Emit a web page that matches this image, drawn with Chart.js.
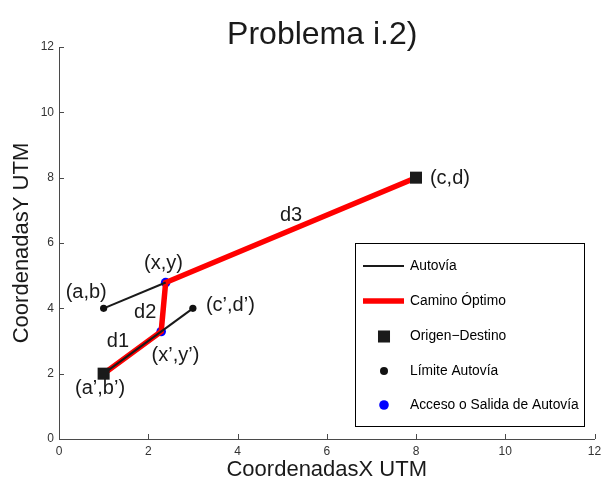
<!DOCTYPE html>
<html><head><meta charset="utf-8">
<script src="https://cdn.jsdelivr.net/npm/chart.js@4/dist/chart.umd.min.js"></script>
<style>html,body{margin:0;padding:0;background:#fff;} canvas{display:block;}</style>
</head><body>
<canvas id="c" width="603" height="482"></canvas>
<script>
// ---- text ----
const chartTitle = 'Problema i.2)';
const xAxisTitle = 'CoordenadasX UTM';
const yAxisTitle = 'CoordenadasY UTM';
const xTicks = [0, 2, 4, 6, 8, 10, 12];
const yTicks = [0, 2, 4, 6, 8, 10, 12];
const seriesLabels = ['Autovía', 'Camino Óptimo', 'Origen\u2212Destino', 'Límite Autovía', 'Acceso o Salida de Autovía'];

// ---- series ----
const autovia1X = [1, 2.39];
const autovia1Y = [4, 4.79];
const autovia2X = [1, 3];
const autovia2Y = [2, 4];
const caminoX = [1, 2.29, 2.39, 8];
const caminoY = [2, 3.29, 4.79, 8];
const origenDestinoX = [1, 8];
const origenDestinoY = [2, 8];
const limiteX = [1, 3];
const limiteY = [4, 4];
const accesoX = [2.29, 2.39];
const accesoY = [3.29, 4.79];

// ---- point annotations ----
const annotText = ['(a,b)', '(x,y)', 'd2', '(c\u2019,d\u2019)', 'd1', '(x\u2019,y\u2019)', '(a\u2019,b\u2019)', '(c,d)', 'd3'];
const annotX = [0.61, 2.34, 1.93, 3.84, 1.32, 2.61, 0.92, 8.76, 5.2];
const annotY = [4.5, 5.36, 3.86, 4.1, 2.98, 2.57, 1.55, 7.99, 6.83];

const FONT = '"Liberation Sans", Arial, Helvetica, sans-serif';
const axisColor = '#4a4a4a';
const mk = (xs, ys) => xs.map((v, i) => ({x: v, y: ys[i]}));

const styles = {
  autovia: {color: '#1a1a1a', width: 2},
  camino: {color: '#ff0000', width: 5.5},
  od: {color: '#1a1a1a', radius: 8.5},
  lim: {color: '#111111', radius: 3.6},
  acc: {color: '#0000ff', radius: 4.8}
};

const decor = {
  id: 'decor',
  afterDraw(chart) {
    const {ctx, scales: {x, y}, chartArea: a} = chart;
    ctx.save();
    // inward ticks
    ctx.strokeStyle = axisColor; ctx.lineWidth = 1;
    xTicks.forEach(v => {
      const px = Math.round(x.getPixelForValue(v)) + 0.5;
      ctx.beginPath(); ctx.moveTo(px, a.bottom); ctx.lineTo(px, a.bottom - 5); ctx.stroke();
    });
    yTicks.forEach(v => {
      const py = Math.round(y.getPixelForValue(v)) + 0.5;
      ctx.beginPath(); ctx.moveTo(a.left, py); ctx.lineTo(a.left + 5, py); ctx.stroke();
    });
    // title
    ctx.fillStyle = '#1a1a1a';
    ctx.font = '32px ' + FONT;
    ctx.textAlign = 'center'; ctx.textBaseline = 'alphabetic';
    ctx.fillText(chartTitle, (a.left + a.right) / 2 - 4.5, 44);
    // annotations
    ctx.font = '20px ' + FONT;
    ctx.textBaseline = 'middle';
    annotText.forEach((t, i) => {
      ctx.fillText(t, x.getPixelForValue(annotX[i]), y.getPixelForValue(annotY[i]));
    });
    // legend
    const bx = 355.5, by = 243.5, bw = 229, bh = 183;
    ctx.fillStyle = '#fff'; ctx.fillRect(bx, by, bw, bh);
    ctx.strokeStyle = '#000'; ctx.lineWidth = 1; ctx.strokeRect(bx, by, bw, bh);
    const rows = [266, 301, 336.5, 371, 405];
    const x0 = 363, x1 = 404, xm = 384, xt = 410;
    ctx.font = '13.8px ' + FONT; ctx.textAlign = 'left'; ctx.textBaseline = 'middle';
    rows.forEach((ry, i) => {
      ctx.fillStyle = '#000';
      ctx.fillText(seriesLabels[i], xt, ry);
    });
    ctx.lineCap = 'butt';
    ctx.strokeStyle = styles.autovia.color; ctx.lineWidth = styles.autovia.width;
    ctx.beginPath(); ctx.moveTo(x0, rows[0]); ctx.lineTo(x1, rows[0]); ctx.stroke();
    ctx.strokeStyle = styles.camino.color; ctx.lineWidth = styles.camino.width;
    ctx.beginPath(); ctx.moveTo(x0, rows[1]); ctx.lineTo(x1, rows[1]); ctx.stroke();
    const s = styles.od.radius * Math.SQRT1_2;
    ctx.fillStyle = styles.od.color; ctx.fillRect(xm - s, rows[2] - s, 2 * s, 2 * s);
    ctx.fillStyle = styles.lim.color; ctx.beginPath(); ctx.arc(xm, rows[3], 4, 0, Math.PI * 2); ctx.fill();
    ctx.fillStyle = styles.acc.color; ctx.beginPath(); ctx.arc(xm, rows[4], styles.acc.radius, 0, Math.PI * 2); ctx.fill();
    ctx.restore();
  }
};

const lineDs = (label, data, st) => ({label, data, showLine: true, borderColor: st.color, borderWidth: st.width,
  pointRadius: 0, pointHoverRadius: 0, fill: false, borderJoinStyle: 'miter', clip: false});
const ptDs = (label, data, st, shape) => ({label, data, showLine: false, pointStyle: shape, pointRadius: st.radius,
  pointHoverRadius: st.radius, pointBackgroundColor: st.color, pointBorderColor: st.color, pointBorderWidth: 0, clip: false});

new Chart(document.getElementById('c'), {
  type: 'scatter',
  data: {
    datasets: [
      ptDs(seriesLabels[2], mk(origenDestinoX, origenDestinoY), styles.od, 'rect'),
      ptDs(seriesLabels[3], mk(limiteX, limiteY), styles.lim, 'circle'),
      lineDs(seriesLabels[0], mk(autovia1X, autovia1Y), styles.autovia),
      lineDs(seriesLabels[0], mk(autovia2X, autovia2Y), styles.autovia),
      lineDs(seriesLabels[1], mk(caminoX, caminoY), styles.camino),
      ptDs(seriesLabels[4], mk(accesoX, accesoY), styles.acc, 'circle')
    ]
  },
  options: {
    responsive: false,
    devicePixelRatio: 1,
    animation: false,
    events: [],
    layout: {padding: {top: 47, right: 6, left: 0, bottom: 0}},
    plugins: {legend: {display: false}, tooltip: {enabled: false}, title: {display: false}},
    scales: {
      x: {
        type: 'linear', min: 0, max: 12,
        afterBuildTicks: s => { s.ticks = xTicks.map(v => ({value: v})); },
        afterFit: s => { s.height = 43; s.paddingLeft = 0; s.paddingRight = 0; },
        grid: {display: false, drawOnChartArea: false, drawTicks: false},
        border: {display: true, color: axisColor, width: 1},
        ticks: {color: '#333', font: {family: FONT, size: 12}, padding: 5, maxRotation: 0, autoSkip: false},
        title: {display: true, text: xAxisTitle, color: '#1a1a1a', font: {family: FONT, size: 22, lineHeight: 1}, padding: {top: 0, bottom: 1}}
      },
      y: {
        type: 'linear', min: 0, max: 12,
        afterBuildTicks: s => { s.ticks = yTicks.map(v => ({value: v})); },
        afterFit: s => { s.width = 59; s.paddingTop = 0; s.paddingBottom = 0; },
        grid: {display: false, drawOnChartArea: false, drawTicks: false},
        border: {display: true, color: axisColor, width: 1},
        ticks: {color: '#333', font: {family: FONT, size: 12}, padding: 5, autoSkip: false},
        title: {display: true, text: yAxisTitle, color: '#1a1a1a', font: {family: FONT, size: 22, lineHeight: 1}, padding: {top: 11, bottom: 0}}
      }
    }
  },
  plugins: [decor]
});
</script>
</body></html>
